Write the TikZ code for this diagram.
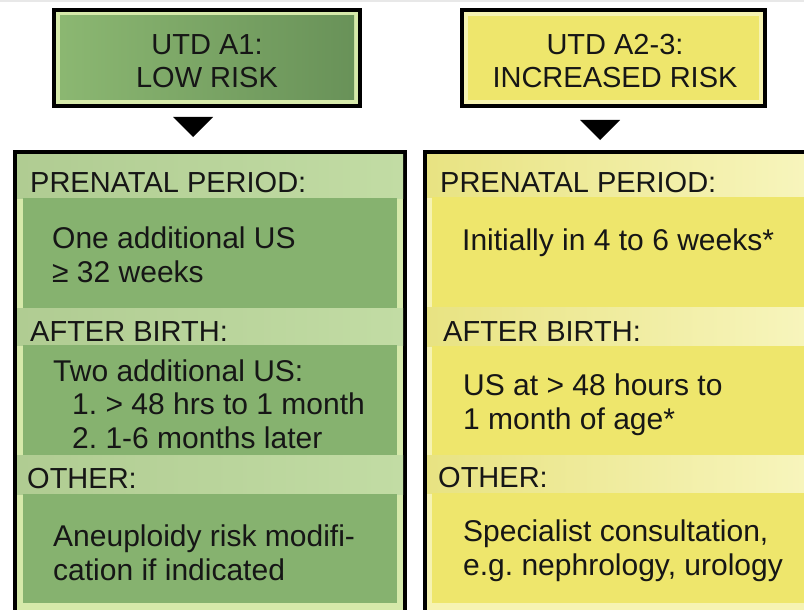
\documentclass[tikz,border=0pt]{standalone}
\usepackage{fontspec}
\setmainfont{Liberation Sans}
\frenchspacing
\definecolor{txt}{RGB}{22,22,22}
\definecolor{gFrame}{RGB}{214,233,170}
\definecolor{gHdrA}{RGB}{176,204,146}
\definecolor{gHdrB}{RGB}{202,226,174}
\definecolor{gHdrC}{RGB}{194,220,164}
\definecolor{gContent}{RGB}{134,178,111}
\definecolor{gTopL}{RGB}{140,184,114}
\definecolor{gTopR}{RGB}{104,145,88}
\definecolor{yFrame}{RGB}{246,243,178}
\definecolor{yHdrA}{RGB}{232,227,130}
\definecolor{yHdrB}{RGB}{244,240,160}
\definecolor{yHdrC}{RGB}{248,246,192}
\definecolor{yContent}{RGB}{238,230,108}
\definecolor{yTop}{RGB}{238,230,108}
\tikzset{
  topbox/.style={draw=black, line width=4pt, minimum height=96pt, inner sep=0pt},
  toptext/.style={anchor=base, inner sep=0pt, align=center, text=txt, font=\fontsize{29}{33}\selectfont},
  hdr/.style={anchor=base west, inner sep=0pt, text=txt, font=\fontsize{29}{33}\selectfont},
  body/.style={anchor=base west, inner sep=0pt, align=left, text=txt, font=\fontsize{30}{33.5}\selectfont},
  bigbox/.style={draw=black, line width=4pt},
  ghdr/.style={left color=gHdrA, middle color=gHdrB, right color=gHdrC},
  yhdr/.style={left color=yHdrA, middle color=yHdrB, right color=yHdrC},
  tipmark/.style={fill=black}
}
\begin{document}
\begin{tikzpicture}[x=1pt,y=-1pt]
\useasboundingbox (0,0) rectangle (804,610);
\clip (0,0) rectangle (804,610);
\fill[white] (0,0) rectangle (804,610);
\fill[gray!18] (0,0) rectangle (804,2);

% top boxes
\node[topbox, fill=gFrame, minimum width=306pt,
  path picture={\shade[left color=gTopL,right color=gTopR]
    ([shift={(6,6)}]path picture bounding box.north west) rectangle
    ([shift={(-6,-6)}]path picture bounding box.south east);}]
  (a1) at (207,58) {};
\node[toptext] (a1t) at (207,88) {UTD A1:\\LOW RISK};
\node[topbox, fill=yFrame, minimum width=303pt,
  path picture={\fill[yTop]
    ([shift={(6,6)}]path picture bounding box.north west) rectangle
    ([shift={(-6,-6)}]path picture bounding box.south east);}]
  (a2) at (613.5,58) {};
\node[toptext] (a2t) at (615,88) {UTD A2-3:\\INCREASED RISK};

% arrow tips
\coordinate (t1) at (193,117);
\coordinate (t2) at (600,120);
\fill[tipmark] (t1) ++(-20,0) -- ++(40,0) -- ++(-20,20) -- cycle;
\fill[tipmark] (t2) ++(-20,0) -- ++(40,0) -- ++(-20,20) -- cycle;

% left big box
\draw[bigbox, fill=gFrame] (15,152) rectangle (405,630);
\shade[ghdr] (17,154) rectangle (403,198);
\fill[gContent] (23,198) rectangle (397,308);
\shade[ghdr] (17,308) rectangle (403,345);
\fill[gContent] (23,345) rectangle (397,455);
\shade[ghdr] (17,455) rectangle (403,494);
\fill[gContent] (23,494) rectangle (397,603);

% right big box
\draw[bigbox, fill=yFrame] (425,152) rectangle (850,630);
\shade[yhdr] (427,154) rectangle (830,197);
\fill[yContent] (432,197) rectangle (830,307);
\shade[yhdr] (427,307) rectangle (830,346);
\fill[yContent] (432,346) rectangle (830,455);
\shade[yhdr] (427,455) rectangle (830,493);
\fill[yContent] (432,493) rectangle (830,603);

% left texts (base anchor = last line's baseline)
\node[hdr] (lh1) at (30,192) {PRENATAL PERIOD:};
\node[body] (lb1) at (52,282) {One additional US\\≥ 32 weeks};
\node[hdr] (lh2) at (30,341) {AFTER BIRTH:};
\node[body] (lb2) at (53,448) {Two additional US:\\\hspace*{19pt}1. > 48 hrs to 1 month\\\hspace*{19pt}2. 1-6 months later};
\node[hdr] (lh3) at (27,488) {OTHER:};
\node[body] (lb3) at (53,580) {Aneuploidy risk modifi-\\cation if indicated};

% right texts
\node[hdr] (rh1) at (440,192) {PRENATAL PERIOD:};
\node[body] (rb1) at (462,250) {Initially in 4 to 6 weeks*};
\node[hdr] (rh2) at (443,341) {AFTER BIRTH:};
\node[body] (rb2) at (463,429) {US at > 48 hours to\\1 month of age*};
\node[hdr] (rh3) at (438,487) {OTHER:};
\node[body] (rb3) at (463,575) {Specialist consultation,\\e.g. nephrology, urology};
\end{tikzpicture}
\end{document}
